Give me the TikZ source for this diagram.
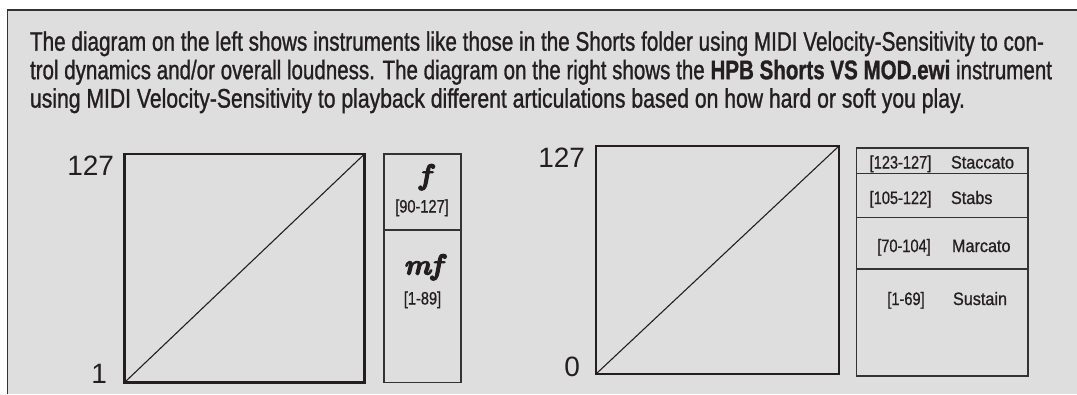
\documentclass[tikz,border=0pt]{standalone}
\usepackage{fontspec}
\usepackage{graphicx}
\newfontfamily\sansfont{Liberation Sans}
\newfontfamily\condfont[FakeStretch=0.93,FakeBold=1.2]{Liberation Sans}
\newfontfamily\rangefont[FakeStretch=0.81,FakeBold=0.8]{Liberation Sans}
\newfontfamily\wordfont[FakeStretch=0.9,FakeBold=0.8]{Liberation Sans}
\newfontfamily\dynfont[Extension=.otf,FakeBold=3.5]{lmroman10-bolditalic}
\definecolor{bg}{HTML}{DEDEDE}
\definecolor{ink}{HTML}{231F20}
\definecolor{framec}{HTML}{333333}
\begin{document}
\begin{tikzpicture}[x=1pt,y=-1pt,
  bodytext/.style={anchor=base west, inner sep=0pt, outer sep=0pt, text=ink,
    font=\condfont\fontsize{26.8}{28}\selectfont},
  velobox/.style={draw=ink, line width=2.6pt, inner sep=0pt, outer sep=0pt},
  tablebox/.style={draw=framec, line width=1.4pt, inner sep=0pt, outer sep=0pt},
  divline/.style={draw=framec, line width=1.4pt},
  diagline/.style={draw=ink, line width=1.1pt},
  bignum/.style={anchor=base east, inner sep=0pt, outer sep=0pt, text=ink,
    font=\sansfont\fontsize{28}{28}\selectfont},
  rangetxt/.style={anchor=base, inner sep=0pt, outer sep=0pt, text=ink,
    font=\rangefont\fontsize{18}{20}\selectfont},
  arttxt/.style={anchor=base west, inner sep=0pt, outer sep=0pt, text=ink,
    font=\wordfont\fontsize{18}{20}\selectfont},
  dyntxt/.style={anchor=base, inner sep=0pt, outer sep=0pt, text=ink,
    font=\dynfont\fontsize{29}{29}\selectfont}
]
\useasboundingbox (0,0) rectangle (1077,394);
\fill[bg] (7.3,10) rectangle (1077,394);
\draw[framec, line width=1.5pt] (7.3,394) -- (7.3,10) -- (1077,10);

% body text
\node[bodytext] (l1) at (30,50.7) {\resizebox{1014pt}{\height}{The diagram on the left shows instruments like those in the Shorts folder using MIDI Velocity-Sensitivity to con-}};
\node[bodytext] (l2) at (30,79.2) {\resizebox{1022pt}{\height}{trol dynamics and/or overall loudness. The diagram on the right shows the \textbf{HPB Shorts VS MOD.ewi} instrument}};
\node[bodytext] (l3) at (30,107.6) {\resizebox{935pt}{\height}{using MIDI Velocity-Sensitivity to playback different articulations based on how hard or soft you play.}};

% left diagram
\node[velobox, minimum width=240pt, minimum height=228.5pt] (lsq) at (244.5,268.25) {};
\draw[diagline] (lsq.south west) -- (lsq.north east);
\node[bignum] (l127) at (114,175) {127};
\node[bignum] (l1v) at (107,383) {1};

\node[tablebox, minimum width=77pt, minimum height=228.5pt] (fbox) at (422.5,268.25) {};
\coordinate (fdiv) at (422.5,230);
\draw[divline] (fbox.west |- fdiv) -- (fbox.east |- fdiv);
\node[dyntxt] (fdyn) at (425,184.5) {f};
\node[rangetxt] (frange) at (422,212.5) {[90-127]};
\node[dyntxt] (mfdyn) at (423,274.5) {mf};
\node[rangetxt] (mfrange) at (422.5,304.5) {[1-89]};

% right diagram
\node[velobox, minimum width=243pt, minimum height=228pt] (rsq) at (717.5,260) {};
\draw[diagline] (rsq.south west) -- (rsq.north east);
\node[bignum] (r127) at (585,167) {127};
\node[bignum] (r0) at (580,376) {0};

\node[tablebox, minimum width=171.5pt, minimum height=228pt] (tbl) at (942.25,262) {};
\coordinate (d1) at (942,173.3);
\coordinate (d2) at (942,217.7);
\coordinate (d3) at (942,269);
\draw[divline] (tbl.west |- d1) -- (tbl.east |- d1);
\draw[divline] (tbl.west |- d2) -- (tbl.east |- d2);
\draw[divline] (tbl.west |- d3) -- (tbl.east |- d3);

\node[rangetxt] (r1) at (900.5,168.5) {[123-127]};
\node[arttxt] (a1) at (951,168.5) {Staccato};
\node[rangetxt] (r2) at (900.5,204) {[105-122]};
\node[arttxt] (a2) at (951,204) {Stabs};
\node[rangetxt] (r3) at (904,252) {[70-104]};
\node[arttxt] (a3) at (952,252) {Marcato};
\node[rangetxt] (r4) at (906,305) {[1-69]};
\node[arttxt] (a4) at (953,305) {Sustain};
\end{tikzpicture}
\end{document}
